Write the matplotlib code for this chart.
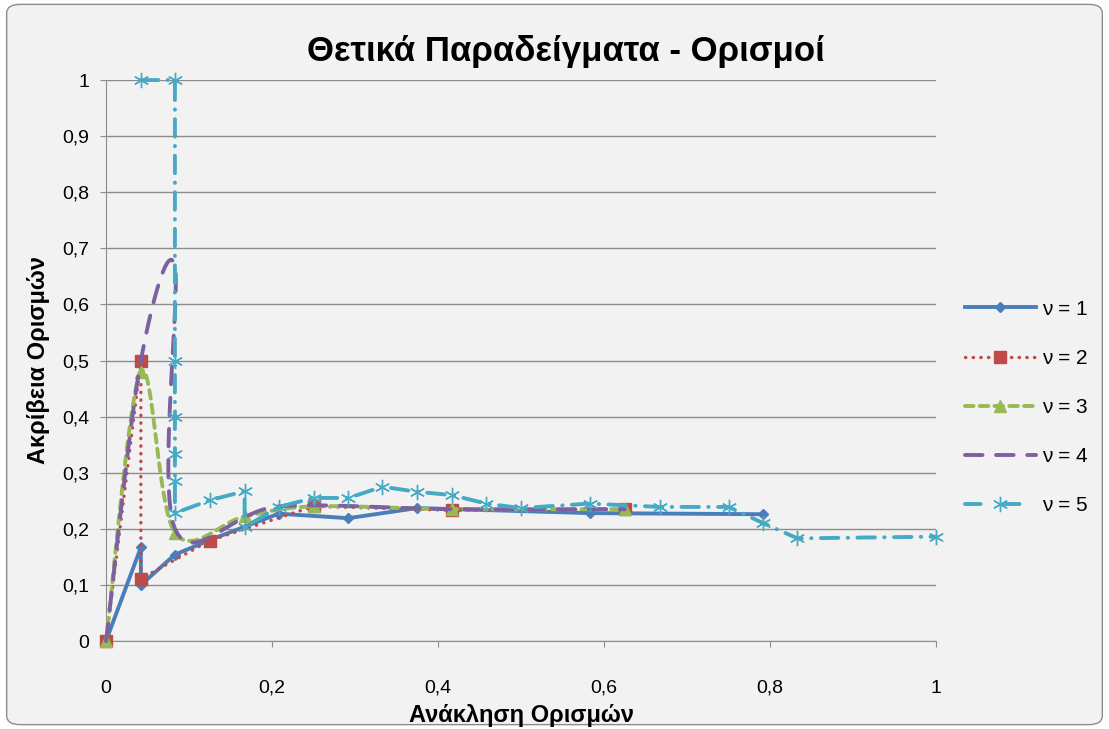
import matplotlib
matplotlib.use("Agg")
import matplotlib.pyplot as plt
from matplotlib.patches import FancyBboxPatch
from matplotlib.ticker import FuncFormatter
import numpy as np

plt.rcParams['font.family'] = ['Liberation Sans', 'DejaVu Sans']

# recall (x) / precision (y) per series
x1 = [0, 0.042, 0.042, 0.083, 0.125, 0.208, 0.292, 0.375, 0.583, 0.792]
y1 = [0, 0.167, 0.100, 0.154, 0.180, 0.227, 0.219, 0.237, 0.228, 0.226]
x2 = [0, 0.042, 0.042, 0.125, 0.250, 0.417, 0.625]
y2 = [0, 0.500, 0.111, 0.179, 0.240, 0.233, 0.235]
x3 = [0, 0.042, 0.083, 0.167, 0.250, 0.417, 0.625]
y3 = [0, 0.480, 0.193, 0.222, 0.240, 0.235, 0.235]
x4 = [0, 0.042, 0.083, 0.083, 0.208, 0.417, 0.625]
y4 = [0, 0.500, 0.667, 0.200, 0.240, 0.235, 0.235]
x5 = [0.042, 0.083, 0.083, 0.083, 0.083, 0.083, 0.083, 0.125, 0.167, 0.167,
      0.208, 0.250, 0.292, 0.333, 0.375, 0.417, 0.458, 0.500, 0.583, 0.667,
      0.750, 0.792, 0.833, 1.000]
y5 = [1.000, 1.000, 0.500, 0.400, 0.333, 0.286, 0.228, 0.251, 0.267, 0.203,
      0.239, 0.255, 0.255, 0.275, 0.266, 0.260, 0.245, 0.237, 0.245, 0.239,
      0.239, 0.210, 0.183, 0.186]
labels = ["ν = 1", "ν = 2", "ν = 3", "ν = 4", "ν = 5"]
xticks = [0, 0.2, 0.4, 0.6, 0.8, 1.0]
yticks = [0, 0.1, 0.2, 0.3, 0.4, 0.5, 0.6, 0.7, 0.8, 0.9, 1.0]

bg = '#F2F2F2'


def smooth(xs, ys, n=20):
    # catmull-rom style curve through the points (like excel smoothed lines)
    p = np.column_stack([xs, ys]).astype(float)
    p = np.vstack([p[0], p, p[-1]])
    out = []
    for i in range(1, len(p) - 2):
        p0, p1, p2, p3 = p[i - 1], p[i], p[i + 1], p[i + 2]
        c1 = p1 + (p2 - p0) / 6.0
        c2 = p2 - (p3 - p1) / 6.0
        t = np.linspace(0, 1, n)[:, None]
        seg = ((1 - t) ** 3) * p1 + 3 * ((1 - t) ** 2) * t * c1 + 3 * (1 - t) * t ** 2 * c2 + t ** 3 * p2
        out.append(seg if i == 1 else seg[1:])
    s = np.vstack(out)
    return s[:, 0], s[:, 1]


fig = plt.figure(figsize=(11.09, 7.29), dpi=100, facecolor='white')
frame = FancyBboxPatch((0.006, 0.006), 0.988, 0.988, boxstyle="round,pad=0,rounding_size=0.012",
                       transform=fig.transFigure, facecolor=bg, edgecolor='#8C8C8C', linewidth=1.0,
                       zorder=-10)
fig.patches.append(frame)

ax = fig.add_axes([0.0956, 0.1207, 0.7484, 0.7695])
ax.set_facecolor(bg)
ax.set_xlim(0, 1)
ax.set_ylim(0, 1)
for s in ['top', 'right']:
    ax.spines[s].set_visible(False)
ax.spines['left'].set_color('#8C8C8C')
ax.spines['bottom'].set_color('#8C8C8C')
ax.set_yticks(yticks)
ax.set_xticks(xticks)
ax.yaxis.grid(True, color='#8C8C8C', linewidth=1.0)
ax.set_axisbelow(True)
fmt = FuncFormatter(lambda v, p: ('%g' % round(v, 1)).replace('.', ','))
ax.xaxis.set_major_formatter(fmt)
ax.yaxis.set_major_formatter(fmt)
ax.tick_params(axis='both', length=4, color='#8C8C8C', labelsize=14, colors='black')
ax.tick_params(axis='y', pad=8)
ax.tick_params(axis='x', pad=24)

c1, c2, c3, c4, c5 = '#4A7EBB', '#BE4B48', '#98B954', '#7D60A0', '#46AAC5'

# series 1: solid, diamonds
ax.plot(x1, y1, color=c1, lw=2.8, marker='D', ms=5, clip_on=False, label=labels[0], zorder=3)
# series 2: dotted, squares
ax.plot(x2, y2, color=c2, lw=2.4, ls=(0, (0.1, 2.2)), dash_capstyle='round', marker='s', ms=8,
        clip_on=False, label=labels[1], zorder=4)
# series 3: dashes, triangles (smoothed)
sx, sy = smooth(x3, y3)
ax.plot(sx, sy, color=c3, lw=2.8, ls=(0, (2.2, 1.6)), dash_capstyle='round', clip_on=False, zorder=4)
ax.plot(x3, y3, ls='none', color=c3, marker='^', ms=8, clip_on=False, zorder=4)
# series 4: long dashes (smoothed)
sx, sy = smooth(x4, y4)
ax.plot(sx, sy, color=c4, lw=2.8, ls=(0, (4.5, 3.5)), dash_capstyle='round', clip_on=False, zorder=4)
# series 5: dash-dot, asterisks
ax.plot(x5, y5, color=c5, lw=2.8, ls=(0, (4.5, 2.4, 0.1, 2.4)), dash_capstyle='round', clip_on=False, zorder=5)
ax.plot(x5, y5, ls='none', color=c5, marker=(6, 2, 0), ms=11, mew=1.0, clip_on=False, zorder=5)

# legend proxies
h = [
    plt.Line2D([], [], color=c1, lw=2.8, marker='D', ms=5),
    plt.Line2D([], [], color=c2, lw=2.4, ls=(0, (0.1, 2.2)), dash_capstyle='round', marker='s', ms=8),
    plt.Line2D([], [], color=c3, lw=2.8, ls=(0, (2.2, 1.6)), dash_capstyle='round', marker='^', ms=8),
    plt.Line2D([], [], color=c4, lw=2.8, ls=(0, (4.5, 3.5)), dash_capstyle='round'),
    plt.Line2D([], [], color=c5, lw=2.8, ls=(0, (4, 6)), dash_capstyle='round', marker=(6, 2, 0), ms=11, mew=1.0),
]
fig.legend(h, labels, loc='center left', bbox_to_anchor=(0.853, 0.441), frameon=False,
           fontsize=15, handlelength=3.4, labelspacing=1.45, handletextpad=0.3)

fig.text(0.51, 0.929, "Θετικά Παραδείγματα - Ορισμοί", ha='center', va='center',
         fontsize=25, fontweight='bold')
ax.set_xlabel("Ανάκληση Ορισμών", fontsize=17, fontweight='bold', labelpad=5)
ax.set_ylabel("Ακρίβεια Ορισμών", fontsize=17, fontweight='bold', labelpad=9)

fig.savefig("out.png", dpi=100, facecolor='white')
